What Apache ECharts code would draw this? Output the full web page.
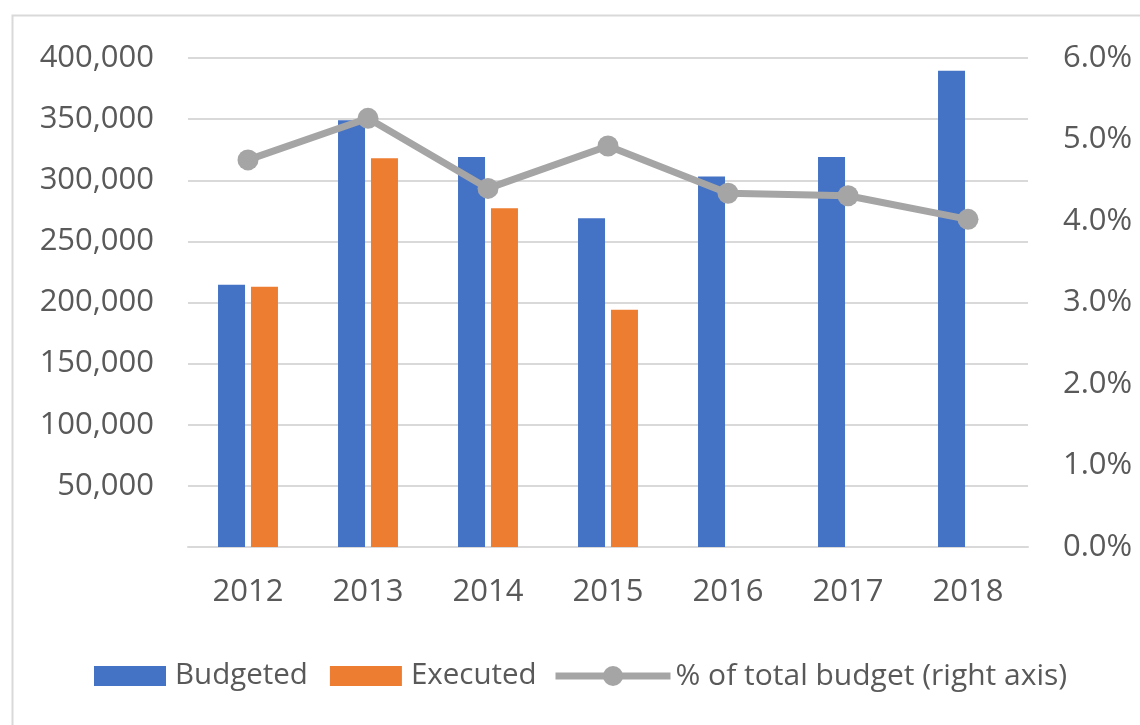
<!DOCTYPE html>
<html>
<head>
<meta charset="utf-8">
<script src="https://cdn.jsdelivr.net/npm/echarts@6/dist/echarts.min.js"></script>
<style>
html,body{margin:0;padding:0;background:#fff;}
#chart{width:1140px;height:725px;}
</style>
</head>
<body>
<div id="chart"></div>
<script>
const years = ['2012','2013','2014','2015','2016','2017','2018'];
const budgeted = [214500, 349000, 319000, 269000, 303000, 319000, 389500];
const executed = [212800, 318000, 277000, 194000, null, null, null];
const pctTotal = [4.75, 5.26, 4.40, 4.92, 4.34, 4.31, 4.02];
const leftTicks = [0, 400000, 50000];
const rightTicks = [0, 6, 1];

const FONT = '"Open Sans", sans-serif';
const TXT = '#595959';
const GRID = '#d9d9d9';
const LINEC = '#a5a5a5';

const chart = echarts.init(document.getElementById('chart'), null, {renderer: 'canvas'});
chart.setOption({
  animation: false,
  backgroundColor: '#fff',
  textStyle: {fontFamily: FONT},
  graphic: [{
    type: 'rect', left: 10, top: 13, z: -10,
    shape: {width: 1200, height: 800},
    style: {fill: 'none', stroke: GRID, lineWidth: 2}
  }],
  grid: {left: 188, right: 112, top: 58, bottom: 178, containLabel: false},
  legend: [{
    left: 94, top: 661, padding: 0,
    data: ['Budgeted', 'Executed'],
    itemWidth: 72, itemHeight: 20, itemGap: 22,
    icon: 'rect',
    textStyle: {fontFamily: FONT, fontSize: 29.5, color: TXT, padding: [0, 0, 0, 4]}
  }, {
    left: 552, top: 661, padding: 0,
    data: ['% of total budget (right axis)'],
    itemWidth: 115, itemHeight: 25,
    lineStyle: {width: 7, color: LINEC},
    itemStyle: {color: LINEC},
    textStyle: {fontFamily: FONT, fontSize: 30, color: TXT, padding: [0, 0, 0, 0]}
  }],
  xAxis: {
    type: 'category', data: years,
    axisLine: {show: true, lineStyle: {color: GRID, width: 2}},
    axisTick: {show: false},
    axisLabel: {fontFamily: FONT, fontSize: 31, color: TXT, margin: 30}
  },
  yAxis: [{
    type: 'value', min: leftTicks[0], max: leftTicks[1], interval: leftTicks[2],
    axisLine: {show: false}, axisTick: {show: false},
    splitLine: {lineStyle: {color: GRID, width: 2}},
    axisLabel: {
      fontFamily: FONT, fontSize: 31, color: TXT, margin: 34,
      formatter: v => v === 0 ? '' : v.toLocaleString('en-US')
    }
  }, {
    type: 'value', min: rightTicks[0], max: rightTicks[1], interval: rightTicks[2],
    position: 'right',
    axisLine: {show: false}, axisTick: {show: false},
    splitLine: {show: false},
    axisLabel: {
      fontFamily: FONT, fontSize: 31, color: TXT, margin: 35,
      formatter: v => v.toFixed(1) + '%'
    }
  }],
  series: [{
    name: 'Budgeted', type: 'bar', data: budgeted,
    barWidth: 27, barGap: '22%',
    itemStyle: {color: '#4472c4'}
  }, {
    name: 'Executed', type: 'bar', data: executed,
    barWidth: 27, barGap: '22%',
    itemStyle: {color: '#ed7d31'}
  }, {
    name: '% of total budget (right axis)', type: 'line', yAxisIndex: 1,
    data: pctTotal, z: 5,
    symbol: 'circle', symbolSize: 21,
    lineStyle: {color: LINEC, width: 7},
    itemStyle: {color: LINEC}
  }]
});
</script>
</body>
</html>
